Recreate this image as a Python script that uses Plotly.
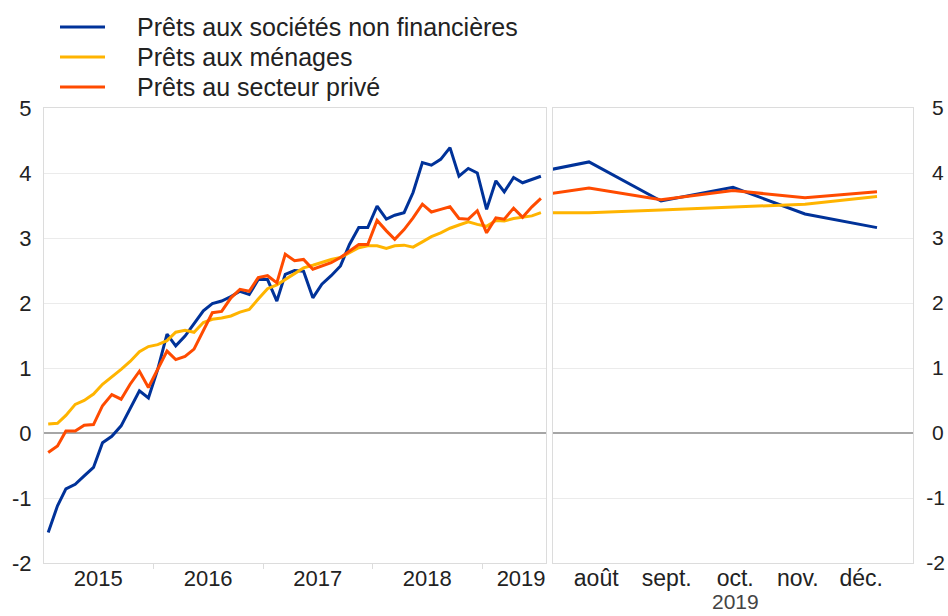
import pandas as pd
import plotly.graph_objects as go

# ---- data (annual growth rates, %) ----
months_left = pd.date_range("2015-01-01", periods=55, freq="MS") + pd.Timedelta(days=14)

nfc = [-1.53, -1.12, -0.86, -0.79, -0.66, -0.53, -0.15, -0.05, 0.11, 0.37,
       0.65, 0.54, 0.98, 1.52, 1.34, 1.49, 1.68, 1.88, 1.99, 2.03,
       2.10, 2.18, 2.13, 2.36, 2.36, 2.03, 2.44, 2.50, 2.49, 2.08,
       2.29, 2.42, 2.57, 2.90, 3.16, 3.16, 3.49, 3.29, 3.35, 3.39,
       3.70, 4.16, 4.12, 4.21, 4.39, 3.95, 4.07, 4.00, 3.44, 3.88,
       3.71, 3.93, 3.85, 3.90, 3.95]

households = [0.14, 0.15, 0.27, 0.44, 0.50, 0.60, 0.75, 0.86, 0.98, 1.10,
              1.25, 1.33, 1.36, 1.42, 1.55, 1.58, 1.55, 1.70, 1.75, 1.77,
              1.80, 1.86, 1.90, 2.06, 2.22, 2.28, 2.36, 2.46, 2.54, 2.58,
              2.63, 2.67, 2.70, 2.77, 2.85, 2.88, 2.88, 2.84, 2.88, 2.89,
              2.86, 2.94, 3.02, 3.08, 3.15, 3.20, 3.25, 3.21, 3.18, 3.27,
              3.26, 3.30, 3.32, 3.34, 3.39]

private = [-0.30, -0.20, 0.03, 0.03, 0.12, 0.13, 0.42, 0.59, 0.52, 0.75,
           0.95, 0.70, 0.98, 1.26, 1.13, 1.18, 1.29, 1.57, 1.85, 1.87,
           2.08, 2.21, 2.18, 2.39, 2.42, 2.31, 2.75, 2.65, 2.67, 2.52,
           2.57, 2.62, 2.70, 2.80, 2.90, 2.90, 3.27, 3.11, 2.98, 3.13,
           3.31, 3.52, 3.40, 3.44, 3.48, 3.30, 3.29, 3.42, 3.08, 3.31,
           3.29, 3.46, 3.32, 3.48, 3.61]

# right panel: August - December 2019 (month numbers); July links to the left panel
months_right = [8, 9, 10, 11, 12]
month_labels = ["août", "sept.", "oct.", "nov.", "déc."]
nfc_right = [4.17, 3.57, 3.78, 3.37, 3.16]
households_right = [3.39, 3.43, 3.48, 3.52, 3.64]
private_right = [3.77, 3.59, 3.73, 3.62, 3.71]

year_labels = ["2015", "2016", "2017", "2018", "2019"]
year_label_pos = ["2015-07-01", "2016-07-01", "2017-07-01", "2018-07-01", "2019-05-10"]

y_ticks = [-2, -1, 0, 1, 2, 3, 4, 5]
y_left_text = [str(v) for v in y_ticks]
y_right_text = [str(v) if v < 0 else "\u00a0" + str(v) for v in y_ticks]

names = ["Prêts aux sociétés non financières", "Prêts aux ménages", "Prêts au secteur privé"]
colors = ["#003299", "#ffb400", "#ff4b00"]

FONT = "Liberation Sans, Arial, sans-serif"
TXT = "#222222"

fig = go.Figure()
left_series = [nfc, households, private]
right_series = [nfc_right, households_right, private_right]
for name, col, ys in zip(names, colors, left_series):
    fig.add_trace(go.Scatter(x=months_left, y=ys, mode="lines", name=name,
                             showlegend=False,
                             line=dict(color=col, width=3), xaxis="x", yaxis="y"))
for name, col, ys, yl in zip(names, colors, right_series, left_series):
    fig.add_trace(go.Scatter(x=[7] + months_right, y=[yl[-1]] + ys, mode="lines",
                             name=name, showlegend=False,
                             line=dict(color=col, width=3), xaxis="x2", yaxis="y2"))

W, H = 948, 616
L, T = 44, 108
R = W - 913
B = H - 563
pw = W - L - R
ph = H - T - B
d1 = (546 - L) / pw
d2 = (553 - L) / pw


def px_x(px):
    return (px - L) / pw


def px_y(py):
    return (H - B - py) / ph


frame = "#dcdcdc"
grid = "#ebebeb"
axis_common = dict(showline=True, linecolor=frame, linewidth=1, mirror=True)

fig.update_layout(
    width=W, height=H,
    margin=dict(l=L, r=R, t=T, b=B, autoexpand=False),
    paper_bgcolor="white", plot_bgcolor="white",
    font=dict(family=FONT, size=22, color=TXT),
    showlegend=False,
    xaxis=dict(domain=[0, d1], range=["2015-01-01", "2019-08-01"], type="date",
               tickmode="array", tickvals=year_label_pos, ticktext=year_labels,
               tickfont=dict(family=FONT, size=22, color=TXT),
               ticklabelstandoff=-4,
               ticks="", showgrid=False, zeroline=False,
               minor=dict(tickvals=["2016-01-01", "2017-01-01", "2018-01-01", "2019-01-01"],
                          ticks="outside", ticklen=5, tickcolor=frame, showgrid=False),
               **axis_common),
    yaxis=dict(range=[-2, 5], tickmode="array", tickvals=y_ticks, ticktext=y_left_text,
               tickfont=dict(family=FONT, size=22, color=TXT),
               ticklabelstandoff=7,
               showgrid=True, gridcolor=grid,
               zeroline=True, zerolinecolor="#a6a6a6", zerolinewidth=1.5,
               ticks="", **axis_common),
    xaxis2=dict(domain=[d2, 1], range=[7.5, 12.5], anchor="y2",
                tickmode="array", tickvals=[8.1, 9.08, 10.03, 10.9, 11.78],
                ticktext=month_labels,
                tickfont=dict(family=FONT, size=23, color=TXT),
                ticklabelstandoff=-6,
                ticks="", showgrid=False, zeroline=False,
                **axis_common),
    yaxis2=dict(range=[-2, 5], tickmode="array", tickvals=y_ticks, ticktext=y_right_text,
                tickfont=dict(family=FONT, size=21, color=TXT),
                ticklabelstandoff=8,
                anchor="x2", side="right",
                showgrid=True, gridcolor=grid,
                zeroline=True, zerolinecolor="#a6a6a6", zerolinewidth=1.5,
                ticks="", **axis_common),
)

# legend drawn in the reference's layout (swatch + label per series)
legend_rows_px = [27, 57, 87]
for name, col, py in zip(names, colors, legend_rows_px):
    yp = px_y(py)
    fig.add_shape(type="line", xref="paper", yref="paper",
                  x0=px_x(60), x1=px_x(105), y0=yp, y1=yp,
                  line=dict(color=col, width=3))
    fig.add_annotation(text=name, xref="paper", yref="paper",
                       x=px_x(135), y=yp, xanchor="left", yanchor="middle",
                       showarrow=False,
                       font=dict(family=FONT, size=25, color=TXT))

fig.add_annotation(text="2019", xref="x2", x=10.03, yref="paper",
                   y=px_y(601), yanchor="middle", showarrow=False, borderpad=0,
                   font=dict(family=FONT, size=21, color="#444444"))

# remove the browser's default page margin so the figure fills the window exactly
fig.write_html("out.html",
               config={"displayModeBar": False},
               post_script="document.body.style.margin='0';document.body.style.overflow='hidden';")
